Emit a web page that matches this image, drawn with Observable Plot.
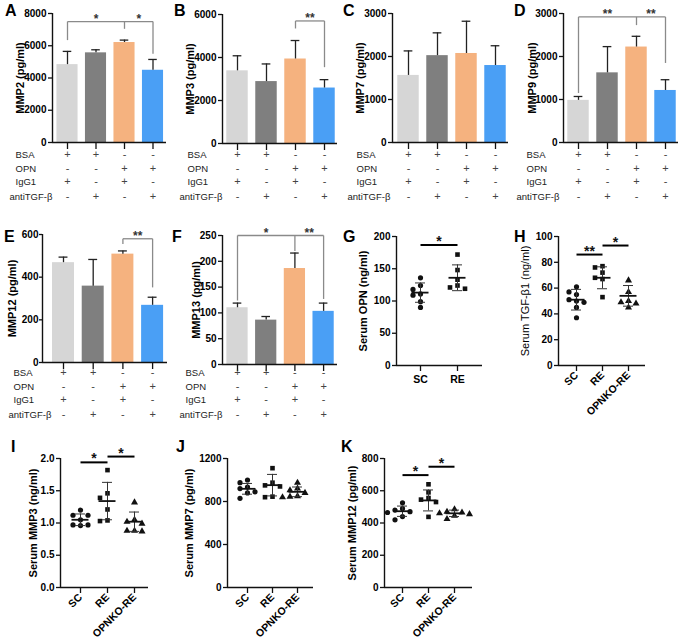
<!DOCTYPE html>
<html><head><meta charset="utf-8">
<script src="https://cdn.jsdelivr.net/npm/d3@7"></script>
<script src="https://cdn.jsdelivr.net/npm/@observablehq/plot@0.6"></script>
<style>
body{margin:0;background:#fff;}
#fig{position:relative;width:683px;height:642px;overflow:hidden;font-family:'Liberation Sans',Arial,sans-serif;background:#fff;}
.panel{position:absolute;}
.letter{position:absolute;font-weight:bold;font-size:16px;line-height:16px;color:#000;}
</style></head><body><div id="fig"></div>
<script>
// ---------------- data ----------------
const treatments = ["BSA", "OPN", "IgG1", "antiTGF-β"];
const treatmentSigns = [
  ["+", "+", "-", "-"],
  ["-", "-", "+", "+"],
  ["+", "-", "+", "-"],
  ["-", "+", "-", "+"]
];
const barColors = ["#d6d6d6", "#7f7f7f", "#f5b27f", "#4a9ff5"];

const mmp2Mean = [4830, 5560, 6200, 4480], mmp2SD = [820, 190, 150, 670];
const mmp3Mean = [3380, 2880, 3930, 2580], mmp3SD = [700, 820, 860, 390];
const mmp7Mean = [1560, 2020, 2070, 1790], mmp7SD = [570, 530, 750, 460];
const mmp9Mean = [980, 1620, 2220, 1210], mmp9SD = [90, 610, 250, 250];
const mmp12Mean = [468, 358, 508, 268], mmp12SD = [26, 125, 15, 38];
const mmp13Mean = [110, 86, 186, 103], mmp13SD = [9, 7, 30, 16];

const sigA = {y: 7500, ref: 2, refEnd: 7050, targets: [0, 3], ends: [6350, 5500], labels: ["*", "*"]};
const sigB = {y: 5700, ref: 2, refEnd: 5350, targets: [3], ends: [3550], labels: ["**"]};
const sigD = {y: 2920, ref: 2, refEnd: 2730, targets: [0, 3], ends: [1150, 1850], labels: ["**", "**"]};
const sigE = {y: 580, ref: 2, refEnd: 555, targets: [3], ends: [352], labels: ["**"]};
const sigF = {y: 250, ref: 2, refEnd: 220, targets: [0, 3], ends: [124, 127], labels: ["*", "**"]};

const groupNames = ["SC", "RE", "OPNKO-RE"];
const groupSymbols = ["circle", "square", "triangle"];

const opnSC = [136, 118, 124, 111, 109, 99, 90], opnRE = [172, 148, 119, 124, 133, 121];
const opnMean = [113, 136], opnSD = [15, 20];
const tgfSC = [61, 57, 55, 51, 50, 49, 45, 37], tgfRE = [77, 76, 72, 68, 67, 53], tgfKO = [66, 57, 50, 49, 48, 45];
const tgfMean = [51, 68, 54], tgfSD = [8, 8.5, 8];
const smmp3SC = [1.20, 1.12, 1.12, 1.05, 0.97, 0.97, 0.96], smmp3RE = [1.82, 1.46, 1.39, 1.21, 1.04, 1.03], smmp3KO = [1.32, 1.05, 1.02, 0.99, 0.88, 0.87, 0.88];
const smmp3Mean = [1.05, 1.34, 1.02], smmp3SD = [0.09, 0.29, 0.15];
const smmp7SC = [1000, 975, 935, 920, 890, 880, 830], smmp7RE = [1110, 975, 950, 940, 840, 845], smmp7KO = [975, 920, 905, 880, 850, 840, 845];
const smmp7Mean = [918, 952, 890], smmp7SD = [50, 100, 45];
const smmp12SC = [525, 490, 480, 470, 465, 440, 420], smmp12RE = [640, 590, 555, 545, 530, 438], smmp12KO = [485, 470, 465, 460, 455, 445, 425];
const smmp12Mean = [473, 540, 460], smmp12SD = [32, 65, 20];

const sigG = [{a: 0, b: 1, y: 187, label: "*"}];
const sigH = [{a: 0, b: 1, y: 86, label: "**"}, {a: 1, b: 2, y: 93, label: "*"}];
const sigI = [{a: 0, b: 1, y: 1.94, label: "*"}, {a: 1, b: 2, y: 2.03, label: "*"}];
const sigK = [{a: 0, b: 1, y: 697, label: "*"}, {a: 1, b: 2, y: 749, label: "*"}];

// ---------------- layout helpers ----------------
const FONT = "'Liberation Sans', Arial, sans-serif";
const fig = document.getElementById("fig");
const AX = "#111";

function mount(svg, x, y, w) {
  const d = document.createElement("div");
  d.className = "panel";
  d.style.left = x + "px"; d.style.top = y + "px"; d.style.width = w + "px";
  d.appendChild(svg);
  fig.appendChild(d);
}
function letter(t, x, y) {
  const d = document.createElement("div");
  d.className = "letter"; d.textContent = t;
  d.style.left = x + "px"; d.style.top = y + "px";
  fig.appendChild(d);
}

function barPanel(c) {
  const ML = 56, MR = 8, MT = 24, MB = 72;
  const W = ML + (c.right - c.left) + MR, H = MT + (c.bottom - c.top) + MB;
  const xd = [(c.left - c.c0) / c.step, (c.right - c.c0) / c.step];
  const idx = d3.range(c.mean.length);
  const tickSize = c.tickSize || 4, tickPadding = c.tickPadding == null ? 2 : c.tickPadding;
  const marks = [
    Plot.rectY(idx, {x1: i => i - 0.37, x2: i => i + 0.37, y1: 0, y2: i => c.mean[i], fill: i => barColors[i]}),
    Plot.ruleX(idx, {x: i => i, y1: i => c.mean[i], y2: i => c.mean[i] + c.sd[i], stroke: "#222", strokeWidth: 1.3}),
    Plot.ruleY(idx, {x1: i => i - 0.15, x2: i => i + 0.15, y: i => c.mean[i] + c.sd[i], stroke: "#222", strokeWidth: 1.3}),
    Plot.ruleY([0], {stroke: AX, strokeWidth: 1.4}),
    Plot.ruleX([xd[0]], {y1: 0, y2: c.ymax, stroke: AX, strokeWidth: 1.4}),
    Plot.axisY({ticks: c.yticks, tickSize, tickPadding, tickFormat: d => String(d), fontWeight: "bold", fontSize: 10, label: null, stroke: AX, strokeWidth: 1.3}),
    Plot.axisX({ticks: idx, tickSize: 7, tickFormat: () => "", label: null, stroke: AX, strokeWidth: 1.3}),
    Plot.text([c.label], {frameAnchor: "left", textAnchor: "middle", dx: -c.labelOffset, rotate: -90, fontWeight: "bold", fontSize: 11, fill: "#000"})
  ];
  treatments.forEach((t, r) => {
    const dy = c.rowY[r] - c.bottom;
    marks.push(Plot.text(treatmentSigns[r], {x: (d, i) => i, text: d => d, frameAnchor: "bottom", dy, fontSize: 11, fill: "#444"}));
    marks.push(Plot.text([t], {frameAnchor: "bottom-left", dx: (r === 3 ? c.rowX[1] : c.rowX[0]) - c.left, dy, textAnchor: "start", fontSize: 9.5, fill: "#222"}));
  });
  if (c.sig) {
    const s = c.sig;
    const all = [s.ref, ...s.targets];
    const segs = [{x1: d3.min(all), y1: s.y, x2: d3.max(all), y2: s.y}, {x1: s.ref, y1: s.refEnd, x2: s.ref, y2: s.y}];
    s.targets.forEach((t, k) => segs.push({x1: t, y1: s.ends[k], x2: t, y2: s.y}));
    marks.push(Plot.link(segs, {x1: "x1", y1: "y1", x2: "x2", y2: "y2", stroke: "#8a8a8a", strokeWidth: 1.3}));
    marks.push(Plot.text(s.labels, {x: (d, k) => (s.ref + s.targets[k]) / 2, y: s.y, text: d => d, dy: 1, lineAnchor: "bottom", fontSize: 12, fontWeight: "bold", fill: "#333"}));
  }
  const svg = Plot.plot({
    width: W, height: H, marginLeft: ML, marginRight: MR, marginTop: MT, marginBottom: MB,
    x: {domain: xd}, y: {domain: [0, c.ymax]}, color: {type: "identity"},
    style: {fontFamily: FONT, background: "transparent", overflow: "visible", maxWidth: "none"},
    marks
  });
  mount(svg, c.left - ML, c.top - MT, W);
}

function jitter(vals, pxY, pxX) {
  const order = d3.range(vals.length).sort((a, b) => vals[b] - vals[a]);
  const placed = [], off = new Array(vals.length).fill(0);
  for (const i of order) {
    const y = vals[i] * pxY;
    for (const k of [0, -1, 1, -2, 2, -3, 3]) {
      const x = k * 7.5;
      if (placed.every(p => Math.hypot(p.x - x, p.y - y) >= 5.5)) { off[i] = x / pxX; placed.push({x, y}); break; }
    }
  }
  return off;
}

function scatterPanel(c) {
  const ML = 56, MR = 10, MT = 24, MB = 62;
  const W = ML + (c.right - c.left) + MR, H = MT + (c.bottom - c.top) + MB;
  const step = c.centers[1] - c.centers[0], c0 = c.centers[0];
  const xd = [(c.left - c0) / step, (c.right - c0) / step];
  const pxY = (c.bottom - c.top) / c.ymax;
  const n = c.groups.length;
  const idx = d3.range(n);
  const mhw = 8.5 / step, chw = 5 / step;
  const marks = [
    Plot.ruleY([0], {stroke: AX, strokeWidth: 1.4}),
    Plot.ruleX([xd[0]], {y1: 0, y2: c.ymax, stroke: AX, strokeWidth: 1.4}),
    Plot.axisY({ticks: c.yticks, tickSize: 4, tickPadding: 2, tickFormat: c.tickFormat || (d => String(d)), fontWeight: "bold", fontSize: 10, label: null, stroke: AX, strokeWidth: 1.3}),
    Plot.axisX({ticks: idx, tickSize: 6, tickPadding: c.rotate ? 2 : 4, tickRotate: c.rotate ? -45 : 0, tickFormat: i => groupNames[i], fontWeight: "bold", fontSize: 10.5, label: null, stroke: AX, strokeWidth: 1.3, fill: "#000"}),
    Plot.text([c.label], {frameAnchor: "left", textAnchor: "middle", dx: -c.labelOffset, rotate: -90, fontWeight: c.labelWeight || "bold", fontSize: 11, fill: "#000"})
  ];
  c.groups.forEach((vals, g) => {
    const off = jitter(vals, pxY, step);
    marks.push(Plot.dot(vals, {x: (d, i) => g + off[i], y: d => d, symbol: groupSymbols[g], r: 2.6, fill: "#111", stroke: "none"}));
  });
  marks.push(
    Plot.ruleX(idx, {x: i => i, y1: i => c.means[i] - c.sds[i], y2: i => c.means[i] + c.sds[i], stroke: "#333", strokeWidth: 1}),
    Plot.ruleY(idx, {x1: i => i - chw, x2: i => i + chw, y: i => c.means[i] + c.sds[i], stroke: "#333", strokeWidth: 1}),
    Plot.ruleY(idx, {x1: i => i - chw, x2: i => i + chw, y: i => c.means[i] - c.sds[i], stroke: "#333", strokeWidth: 1}),
    Plot.ruleY(idx, {x1: i => i - mhw, x2: i => i + mhw, y: i => c.means[i], stroke: "#111", strokeWidth: 1.8})
  );
  if (c.sig) {
    marks.push(Plot.link(c.sig, {x1: "a", x2: "b", y1: "y", y2: "y", stroke: "#000", strokeWidth: 2}));
    marks.push(Plot.text(c.sig, {x: d => (d.a + d.b) / 2, y: "y", text: "label", dy: 1, lineAnchor: "bottom", fontSize: 14, fontWeight: "bold", fill: "#111"}));
  }
  const svg = Plot.plot({
    width: W, height: H, marginLeft: ML, marginRight: MR, marginTop: MT, marginBottom: MB,
    x: {domain: xd}, y: {domain: [0, c.ymax]},
    style: {fontFamily: FONT, background: "transparent", overflow: "visible", maxWidth: "none"},
    marks
  });
  mount(svg, c.left - ML, c.top - MT, W);
}

// ---------------- panels ----------------
const topRows = [157, 171, 184, 199], midRows = [375, 389, 402, 417];

barPanel({left: 52, right: 166, top: 13, bottom: 142, c0: 67, step: 28.5, ymax: 8000, yticks: [0, 2000, 4000, 6000, 8000],
  label: "MMP2 (pg/ml)", labelOffset: 32, mean: mmp2Mean, sd: mmp2SD, sig: sigA, rowY: topRows, rowX: [15, 9]});
barPanel({left: 222, right: 337, top: 14, bottom: 143, c0: 237, step: 29, ymax: 6000, yticks: [0, 2000, 4000, 6000],
  label: "MMP3 (pg/ml)", labelOffset: 32, mean: mmp3Mean, sd: mmp3SD, sig: sigB, rowY: topRows, rowX: [187, 179]});
barPanel({left: 392, right: 508, top: 13, bottom: 142, c0: 408, step: 29, ymax: 3000, yticks: [0, 1000, 2000, 3000],
  label: "MMP7 (pg/ml)", labelOffset: 32, mean: mmp7Mean, sd: mmp7SD, sig: null, rowY: topRows, rowX: [356, 347]});
barPanel({left: 563, right: 678, top: 13, bottom: 142, c0: 578, step: 29, ymax: 3000, yticks: [0, 1000, 2000, 3000],
  label: "MMP9 (pg/ml)", labelOffset: 31, mean: mmp9Mean, sd: mmp9SD, sig: sigD, rowY: topRows, rowX: [526, 516]});
barPanel({left: 42, right: 167, top: 234, bottom: 362, c0: 63, step: 29.7, ymax: 600, yticks: [0, 200, 400, 600], tickSize: 3, tickPadding: 1,
  label: "MMP12 (pg/ml)", labelOffset: 30, mean: mmp12Mean, sd: mmp12SD, sig: sigE, rowY: midRows, rowX: [13, 8]});
barPanel({left: 222, right: 337, top: 235, bottom: 364, c0: 237, step: 28.7, ymax: 250, yticks: [0, 50, 100, 150, 200, 250],
  label: "MMP13 (pg/ml)", labelOffset: 26, mean: mmp13Mean, sd: mmp13SD, sig: sigF, rowY: midRows, rowX: [185, 179]});

scatterPanel({left: 396, right: 482, top: 236, bottom: 365, centers: [420, 457], ymax: 200, yticks: [0, 50, 100, 150, 200],
  label: "Serum OPN (ng/ml)", labelOffset: 33, groups: [opnSC, opnRE], means: opnMean, sds: opnSD, sig: sigG, rotate: false});
scatterPanel({left: 558, right: 645, top: 236, bottom: 365, centers: [576, 602, 628], ymax: 100, yticks: [0, 20, 40, 60, 80, 100],
  label: "Serum TGF-β1 (ng/ml)", labelOffset: 33, labelWeight: "normal", groups: [tgfSC, tgfRE, tgfKO], means: tgfMean, sds: tgfSD, sig: sigH, rotate: true});
scatterPanel({left: 60, right: 148, top: 458, bottom: 587, centers: [80, 107, 132], ymax: 2, yticks: [0, 0.5, 1, 1.5, 2], tickFormat: d => d.toFixed(1),
  label: "Serum MMP3 (ng/ml)", labelOffset: 27, groups: [smmp3SC, smmp3RE, smmp3KO], means: smmp3Mean, sds: smmp3SD, sig: sigI, rotate: true});
scatterPanel({left: 227, right: 313, top: 458, bottom: 587, centers: [247, 272, 297], ymax: 1200, yticks: [0, 400, 800, 1200],
  label: "Serum MMP7 (pg/ml)", labelOffset: 38, groups: [smmp7SC, smmp7RE, smmp7KO], means: smmp7Mean, sds: smmp7SD, sig: null, rotate: true});
scatterPanel({left: 384, right: 472, top: 458, bottom: 587, centers: [402, 428, 453], ymax: 800, yticks: [0, 200, 400, 600, 800],
  label: "Serum MMP12 (pg/ml)", labelOffset: 32, groups: [smmp12SC, smmp12RE, smmp12KO], means: smmp12Mean, sds: smmp12SD, sig: sigK, rotate: true});

[["A", 5, 3], ["B", 174, 3], ["C", 343, 3], ["D", 514, 3], ["E", 4, 229], ["F", 172, 229], ["G", 343, 229], ["H", 514, 229],
 ["I", 11, 439], ["J", 176, 439], ["K", 341, 439]].forEach(([t, x, y]) => letter(t, x, y));
</script></body></html>
